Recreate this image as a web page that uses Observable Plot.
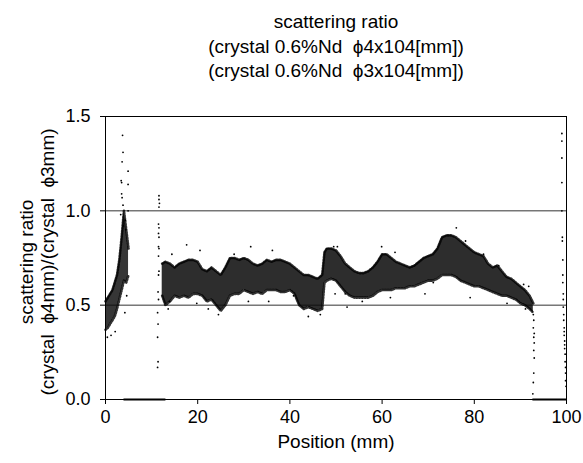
<!DOCTYPE html>
<html>
<head>
<meta charset="utf-8">
<script src="https://cdn.jsdelivr.net/npm/d3@7"></script>
<script src="https://cdn.jsdelivr.net/npm/@observablehq/plot@0.6"></script>
<style>
  html, body { margin: 0; padding: 0; background: #fff; }
  svg { display: block; }
</style>
</head>
<body>
<div id="chart"></div>
<script>
// ---- Titles and labels ----
const titleLines = [
  "scattering ratio",
  "(crystal 0.6%Nd\u00a0\u00a0\u03d54x104[mm])",
  "(crystal 0.6%Nd\u00a0\u00a0\u03d53x104[mm])"
];
const yLabelLines = ["scattering ratio", "(crystal\u00a0\u00a0\u03d54mm)/(crystal\u00a0\u00a0\u03d53mm)"];
const xLabel = "Position (mm)";

// ---- Axis ticks ----
const xTicks = [0, 20, 40, 60, 80, 100];
const yTicks = [0, 0.5, 1.0, 1.5];
const gridValues = [0.5, 1.0];

// ---- Dense cloud, segment near the start (position, lower edge, upper edge) ----
const startPos = [0, 0.5, 1, 1.5, 2, 2.5, 3, 3.5, 4, 4.5, 5];
const startLo  = [0.37, 0.38, 0.40, 0.42, 0.44, 0.48, 0.53, 0.58, 0.63, 0.62, 0.66];
const startHi  = [0.52, 0.54, 0.56, 0.58, 0.62, 0.66, 0.74, 0.86, 1.00, 0.90, 0.80];

// ---- Dense cloud, main segment ----
const mainPos = [12.3, 13, 14, 15, 16, 17, 18, 19, 20, 21, 22, 23, 24, 25, 26, 27, 28, 29, 30,
  31, 32, 33, 34, 35, 36, 37, 38, 39, 40, 41, 42, 43, 44, 45, 46, 47, 47.5, 48, 49, 50,
  51, 52, 53, 54, 55, 56, 57, 58, 59, 60, 61, 62, 63, 64, 65, 66, 67, 68, 69, 70,
  71, 72, 73, 74, 75, 76, 77, 78, 79, 80, 81, 82, 83, 84, 85, 86, 87, 88, 89, 90, 91, 92, 92.8];
const mainLo = [0.55, 0.50, 0.52, 0.55, 0.54, 0.55, 0.54, 0.56, 0.56, 0.55, 0.52, 0.53, 0.50, 0.47, 0.50, 0.55, 0.56, 0.56, 0.58,
  0.57, 0.56, 0.57, 0.56, 0.58, 0.58, 0.58, 0.57, 0.57, 0.58, 0.56, 0.50, 0.48, 0.49, 0.48, 0.47, 0.48, 0.62, 0.63, 0.64, 0.63,
  0.60, 0.57, 0.55, 0.54, 0.54, 0.54, 0.54, 0.55, 0.57, 0.58, 0.58, 0.58, 0.59, 0.59, 0.59, 0.60, 0.60, 0.61, 0.62, 0.63,
  0.63, 0.64, 0.66, 0.66, 0.66, 0.65, 0.63, 0.62, 0.61, 0.60, 0.60, 0.59, 0.58, 0.57, 0.56, 0.55, 0.55, 0.54, 0.53, 0.51, 0.50, 0.48, 0.46];
const mainHi = [0.72, 0.73, 0.72, 0.70, 0.72, 0.73, 0.74, 0.74, 0.73, 0.69, 0.68, 0.70, 0.68, 0.66, 0.70, 0.75, 0.75, 0.74, 0.75,
  0.74, 0.72, 0.71, 0.72, 0.74, 0.73, 0.74, 0.74, 0.73, 0.72, 0.70, 0.68, 0.66, 0.66, 0.65, 0.64, 0.66, 0.78, 0.80, 0.80, 0.79,
  0.76, 0.72, 0.70, 0.68, 0.67, 0.67, 0.68, 0.70, 0.73, 0.77, 0.77, 0.75, 0.73, 0.72, 0.71, 0.70, 0.71, 0.73, 0.75, 0.76,
  0.77, 0.80, 0.86, 0.87, 0.87, 0.86, 0.84, 0.82, 0.80, 0.78, 0.77, 0.76, 0.72, 0.70, 0.71, 0.68, 0.65, 0.64, 0.62, 0.60, 0.58, 0.55, 0.51];

// ---- Sparse points (position, ratio) ----
const sparseX = [
  3.7, 3.8, 3.6, 4.9, 3.4, 3.5, 4.9, 3.5, 3.6, 3.8, 4.9, 3.3, 4.3, 3.9, 4.4, 0.4, 2.1, 4.6, 4.2, 1.2,
  11.6, 11.6, 11.7, 11.6, 11.5, 11.6, 11.5, 11.6, 11.5, 11.6, 11.5, 11.6, 11.5, 11.4, 11.5, 11.3, 11.4, 11.3, 11.4, 11.3,
  17.6, 14.4, 20.5, 31.5, 36.2, 27.9, 24.5, 22.3, 13.6, 13.9, 19.8, 31.0, 35.4, 40.8, 44.0, 46.6, 49.5, 50.3, 52.0,
  49.8, 52.4, 55.7, 59.9, 62.8, 61.8, 69.3, 71.1, 76.1, 78.1, 79.1, 82.0, 85.3, 87.1, 90.7, 91.8, 91.1,
  92.8, 92.9, 92.8, 93.0, 92.9, 93.0, 92.9, 93.0, 92.9, 92.8, 92.7,
  99.0, 99.0, 99.0, 99.0, 99.0, 99.1, 99.1, 99.2, 99.2, 99.2, 99.3, 99.3, 99.3, 99.4, 99.4, 99.5, 99.5, 99.5, 99.6, 99.6, 99.6, 99.7, 99.7, 99.8, 99.8, 99.8, 99.9
];
const sparseY = [
  1.40, 1.31, 1.26, 1.21, 1.16, 1.15, 1.14, 1.09, 1.07, 1.03, 1.00, 0.98, 0.95, 0.92, 0.90, 0.33, 0.36, 0.55, 0.46, 0.34,
  1.08, 1.06, 1.04, 1.02, 0.93, 0.91, 0.88, 0.86, 0.81, 0.80, 0.76, 0.68, 0.66, 0.57, 0.53, 0.46, 0.40, 0.33, 0.20, 0.17,
  0.82, 0.77, 0.79, 0.81, 0.79, 0.77, 0.45, 0.48, 0.48, 0.52, 0.51, 0.52, 0.52, 0.55, 0.44, 0.45, 0.81, 0.81, 0.56,
  0.56, 0.49, 0.52, 0.81, 0.78, 0.54, 0.56, 0.62, 0.91, 0.84, 0.54, 0.77, 0.71, 0.51, 0.61, 0.60, 0.48,
  0.45, 0.42, 0.38, 0.35, 0.33, 0.30, 0.26, 0.22, 0.14, 0.09, 0.03,
  1.41, 1.37, 1.28, 1.15, 1.00, 0.86, 0.84, 0.74, 0.66, 0.62, 0.56, 0.53, 0.49, 0.45, 0.42, 0.38, 0.36, 0.34, 0.31, 0.29, 0.27, 0.24, 0.20, 0.17, 0.14, 0.10, 0.07
];

// ---- Runs of zero readings ----
const zeroStart = [3.9, 92.6];
const zeroEnd   = [13.0, 100];

// ---- Build tables ----
const startBand = startPos.map((x, i) => ({x, lo: startLo[i], hi: startHi[i]}));
const mainBand = mainPos.map((x, i) => ({x, lo: mainLo[i], hi: mainHi[i]}));
const sparse = sparseX.map((x, i) => ({x, y: sparseY[i]}));
const zeroRuns = zeroStart.map((s, i) => ({x1: s, x2: zeroEnd[i], y: 0}));

const font = "'Liberation Sans', Arial, Helvetica, sans-serif";
const edge = {stroke: "#000", strokeWidth: 2.6, strokeDasharray: "1.2,1.6", strokeOpacity: 0.8};

const chart = Plot.plot({
  width: 583,
  height: 463,
  marginLeft: 105,
  marginRight: 17,
  marginTop: 116,
  marginBottom: 64,
  style: {fontFamily: font, fontSize: "18px", color: "#000", background: "#fff"},
  x: {domain: [0, 100], label: null},
  y: {domain: [0, 1.5], label: null},
  marks: [
    Plot.ruleY(gridValues, {stroke: "#333", strokeWidth: 1}),
    Plot.areaY(startBand, {x: "x", y1: "lo", y2: "hi", fill: "#0a0a0a", fillOpacity: 0.82}),
    Plot.areaY(mainBand, {x: "x", y1: "lo", y2: "hi", fill: "#0a0a0a", fillOpacity: 0.86}),
    Plot.line(startBand, {x: "x", y: "lo", ...edge}),
    Plot.line(startBand, {x: "x", y: "hi", ...edge}),
    Plot.line(mainBand, {x: "x", y: "lo", ...edge}),
    Plot.line(mainBand, {x: "x", y: "hi", ...edge}),
    Plot.dot(sparse, {x: "x", y: "y", r: 0.9, fill: "#000", stroke: null}),
    Plot.link(zeroRuns, {x1: "x1", x2: "x2", y1: "y", y2: "y", stroke: "#000", strokeWidth: 2}),
    Plot.frame({stroke: "#000", strokeWidth: 1}),
    Plot.axisX({ticks: xTicks, tickSize: 5, tickPadding: 6, fontSize: 18, label: null}),
    Plot.axisY({ticks: yTicks, tickFormat: d3.format(".1f"), tickSize: 5, tickPadding: 10, fontSize: 18, label: null}),
    Plot.text([xLabel], {frameAnchor: "bottom", dy: 48, lineAnchor: "bottom", fontSize: 19}),
    Plot.text([titleLines[0]], {frameAnchor: "top", dy: -89, lineAnchor: "bottom", fontSize: 19}),
    Plot.text([titleLines[1]], {frameAnchor: "top", dy: -64, lineAnchor: "bottom", fontSize: 19}),
    Plot.text([titleLines[2]], {frameAnchor: "top", dy: -40, lineAnchor: "bottom", fontSize: 19}),
    Plot.text([yLabelLines.join("\n")], {frameAnchor: "left", textAnchor: "middle", dx: -69, dy: 4, rotate: -90, lineHeight: 1.15, fontSize: 19})
  ]
});

document.getElementById("chart").appendChild(chart);
</script>
</body>
</html>
